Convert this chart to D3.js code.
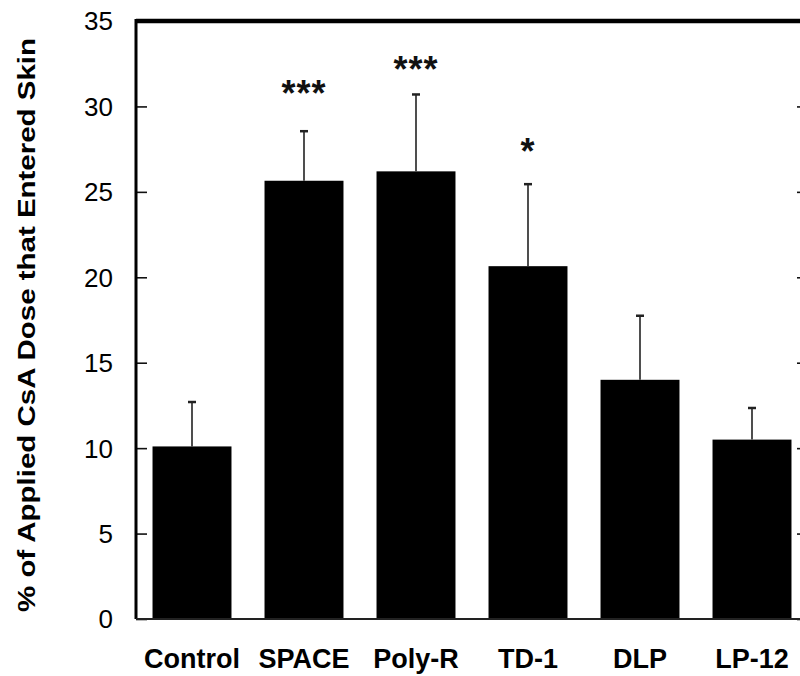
<!DOCTYPE html>
<html lang="en">
<head>
    <meta charset="UTF-8">
    <title>CsA skin penetration</title>
    <script src="https://d3js.org/d3.v7.min.js"></script>
    <style>
        body {
            margin: 0;
            background: #fff;
        }
        svg text {
            font-family: "Liberation Sans", Arial, sans-serif;
        }
    </style>
</head>
<body>
    <svg id="chart" width="800" height="676"></svg>

    <script>
        // data
        const groups = ["Control", "SPACE", "Poly-R", "TD-1", "DLP", "LP-12"];
        const means = [10.1, 25.65, 26.2, 20.65, 14.0, 10.5];
        const errors = [2.6, 2.9, 4.5, 4.8, 3.75, 1.85];
        const stars = ["", "***", "***", "*", "", ""];
        const starLevels = [0, 31.1, 32.5, 27.7, 0, 0];   // y position of the stars, in data units
        const yTicks = [0, 5, 10, 15, 20, 25, 30, 35];

        const svg = d3.select("#chart");
        const margin = { top: 21, right: -8, bottom: 57, left: 136 };
        const width = 800;
        const height = 676;

        const x = d3.scaleBand()
            .domain(groups)
            .range([margin.left, width - margin.right])
            .paddingInner(0.295)
            .paddingOuter(0.1475);

        const y = d3.scaleLinear()
            .domain([0, 35])
            .range([height - margin.bottom, margin.top]);

        // bars
        svg.append("g")
            .selectAll("rect")
            .data(groups)
            .join("rect")
            .attr("x", d => x(d))
            .attr("y", (d, i) => y(means[i]))
            .attr("width", x.bandwidth())
            .attr("height", (d, i) => y(0) - y(means[i]))
            .attr("fill", "#000");

        // error bars (upper only)
        const err = svg.append("g")
            .attr("stroke", "#222")
            .attr("stroke-width", 1.6);

        err.selectAll("line.stem")
            .data(groups)
            .join("line")
            .attr("class", "stem")
            .attr("x1", d => x(d) + x.bandwidth() / 2)
            .attr("x2", d => x(d) + x.bandwidth() / 2)
            .attr("y1", (d, i) => y(means[i]))
            .attr("y2", (d, i) => y(means[i] + errors[i]));

        err.selectAll("line.cap")
            .data(groups)
            .join("line")
            .attr("class", "cap")
            .attr("x1", d => x(d) + x.bandwidth() / 2 - 4)
            .attr("x2", d => x(d) + x.bandwidth() / 2 + 4)
            .attr("y1", (d, i) => y(means[i] + errors[i]))
            .attr("y2", (d, i) => y(means[i] + errors[i]))
            .attr("stroke-width", 2.5);

        // significance stars
        svg.append("g")
            .selectAll("text")
            .data(groups)
            .join("text")
            .attr("x", d => x(d) + x.bandwidth() / 2)
            .attr("y", (d, i) => y(starLevels[i]) + 18)
            .attr("text-anchor", "middle")
            .attr("font-size", 36)
            .attr("font-weight", "bold")
            .attr("letter-spacing", 1)
            .attr("fill", "#111")
            .text((d, i) => stars[i]);

        // left axis, ticks pointing inward
        const yAxis = svg.append("g")
            .attr("transform", `translate(${margin.left},0)`)
            .call(d3.axisRight(y).tickValues(yTicks).tickSize(11).tickFormat(""));
        yAxis.select(".domain").remove();
        yAxis.selectAll(".tick line").attr("stroke", "#111").attr("stroke-width", 1.6);

        svg.append("g")
            .selectAll("text")
            .data(yTicks)
            .join("text")
            .attr("x", 113)
            .attr("y", d => y(d))
            .attr("dy", "0.36em")
            .attr("text-anchor", "end")
            .attr("font-size", 26)
            .attr("fill", "#000")
            .text(d => d);

        // right axis ticks (axis line itself is off the picture)
        const rightX = width - margin.right;
        const yAxisR = svg.append("g")
            .attr("transform", `translate(${rightX},0)`)
            .call(d3.axisLeft(y).tickValues(yTicks).tickSize(11).tickFormat(""));
        yAxisR.select(".domain").remove();
        yAxisR.selectAll(".tick line").attr("stroke", "#111").attr("stroke-width", 1.6);

        // frame
        svg.append("line")
            .attr("x1", margin.left).attr("x2", width)
            .attr("y1", y(35)).attr("y2", y(35))
            .attr("stroke", "#000").attr("stroke-width", 4.5);
        svg.append("line")
            .attr("x1", margin.left).attr("x2", margin.left)
            .attr("y1", y(35) - 2).attr("y2", y(0))
            .attr("stroke", "#000").attr("stroke-width", 3);
        svg.append("line")
            .attr("x1", margin.left).attr("x2", width)
            .attr("y1", y(0)).attr("y2", y(0))
            .attr("stroke", "#222").attr("stroke-width", 2);

        // category labels
        svg.append("g")
            .selectAll("text")
            .data(groups)
            .join("text")
            .attr("x", d => x(d) + x.bandwidth() / 2)
            .attr("y", 668)
            .attr("text-anchor", "middle")
            .attr("font-size", 27)
            .attr("font-weight", "bold")
            .text(d => d);

        // y title
        svg.append("text")
            .attr("transform", "translate(35,325) rotate(-90)")
            .attr("text-anchor", "middle")
            .attr("font-size", 24)
            .attr("font-weight", "bold")
            .attr("textLength", 574)
            .attr("lengthAdjust", "spacingAndGlyphs")
            .text("% of Applied CsA Dose that Entered Skin");
    </script>
</body>
</html>
